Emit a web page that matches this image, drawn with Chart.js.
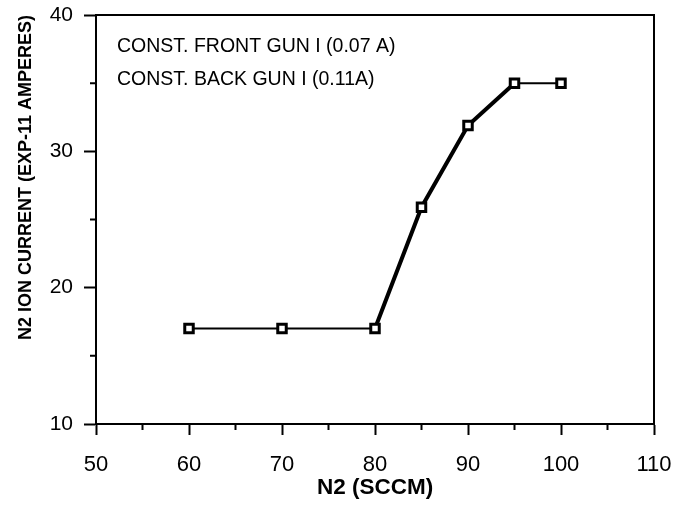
<!DOCTYPE html>
<html>
<head>
<meta charset="utf-8">
<script src="https://cdn.jsdelivr.net/npm/chart.js@4"></script>
<style>
  html, body { margin: 0; padding: 0; background: #fff; }
  #wrap { width: 681px; height: 506px; }
</style>
</head>
<body>
<div id="wrap"><canvas id="chart"></canvas></div>
<script>
// data
const n2Flow = [60, 70, 80, 85, 90, 95, 100];
const ionCurrent = [17, 17, 17, 25.9, 31.9, 35, 35];
const xTicks = [50, 60, 70, 80, 90, 100, 110];
const yTicks = [10, 20, 30, 40];
const notes = ['CONST. FRONT GUN I (0.07 A)', 'CONST. BACK GUN I (0.11A)'];

const FONT = '"Liberation Sans", Arial, Helvetica, sans-serif';

// box round the plot, short minor ticks and the two notes
const framePlugin = {
    id: 'frame',
    afterDraw(chart) {
        const { ctx, chartArea: a, scales } = chart;
        ctx.save();
        ctx.strokeStyle = '#000';
        ctx.lineWidth = 2;
        ctx.beginPath();
        ctx.moveTo(a.left, a.top);
        ctx.lineTo(a.right, a.top);
        ctx.lineTo(a.right, a.bottom);
        ctx.stroke();

        // minor ticks halfway between the labelled ones
        ctx.beginPath();
        for (let v = 55; v < 110; v += 10) {
            const px = scales.x.getPixelForValue(v);
            ctx.moveTo(px, a.bottom);
            ctx.lineTo(px, a.bottom + 6);
        }
        for (let v = 15; v < 40; v += 10) {
            const py = scales.y.getPixelForValue(v);
            ctx.moveTo(a.left, py);
            ctx.lineTo(a.left - 6, py);
        }
        ctx.stroke();

        ctx.fillStyle = '#000';
        ctx.font = '19.5px ' + FONT;
        ctx.textBaseline = 'middle';
        ctx.fillText(notes[0], a.left + 21, 47);
        ctx.fillText(notes[1], a.left + 21, 80);
        ctx.restore();
    }
};

const ctx = document.getElementById('chart').getContext('2d');
new Chart(ctx, {
    type: 'scatter',
    data: {
        datasets: [{
            data: n2Flow.map((x, i) => ({ x: x, y: ionCurrent[i] })),
            showLine: true,
            borderColor: '#000',
            backgroundColor: '#fff',
            borderWidth: 2,
            tension: 0,
            pointStyle: 'rect',
            pointRadius: 6,
            pointBorderWidth: 3,
            pointBorderColor: '#000',
            pointBackgroundColor: '#fff',
            segment: {
                // the rising part of the curve is drawn heavier
                borderWidth: c => c.p0.parsed.y === c.p1.parsed.y ? 2 : 4
            }
        }]
    },
    options: {
        responsive: true,
        maintainAspectRatio: false,
        animation: false,
        layout: { padding: { top: 15, right: 27, bottom: 0, left: 0 } },
        plugins: {
            legend: { display: false },
            tooltip: { enabled: false }
        },
        scales: {
            x: {
                type: 'linear',
                min: 50,
                max: 110,
                afterFit: s => {
                    s.height = 82;
                    s.paddingLeft = 0;
                    s.paddingRight = 0;
                },
                afterBuildTicks: s => { s.ticks = xTicks.map(v => ({ value: v })); },
                ticks: {
                    color: '#000',
                    padding: 17,
                    font: { family: FONT, size: 22 }
                },
                grid: {
                    drawOnChartArea: false,
                    tickLength: 11,
                    tickColor: '#000',
                    tickWidth: 2
                },
                border: { color: '#000', width: 2 },
                title: {
                    display: true,
                    text: 'N2 (SCCM)',
                    color: '#000',
                    font: { family: FONT, size: 22.5, weight: 'bold' },
                    padding: { top: 0, bottom: 5 }
                }
            },
            y: {
                min: 10,
                max: 40,
                afterFit: s => {
                    s.width = 96;
                    s.paddingTop = 0;
                    s.paddingBottom = 0;
                },
                afterBuildTicks: s => { s.ticks = yTicks.map(v => ({ value: v })); },
                ticks: {
                    color: '#000',
                    padding: 11,
                    font: { family: FONT, size: 21 }
                },
                grid: {
                    drawOnChartArea: false,
                    tickLength: 12,
                    tickColor: '#000',
                    tickWidth: 2
                },
                border: { color: '#000', width: 2 },
                title: {
                    display: true,
                    text: 'N2 ION CURRENT (EXP-11 AMPERES)',
                    align: 'end',
                    color: '#000',
                    font: { family: FONT, size: 18, weight: 'bold' },
                    padding: { top: 15, bottom: 0 }
                }
            }
        }
    },
    plugins: [framePlugin]
});
</script>
</body>
</html>
